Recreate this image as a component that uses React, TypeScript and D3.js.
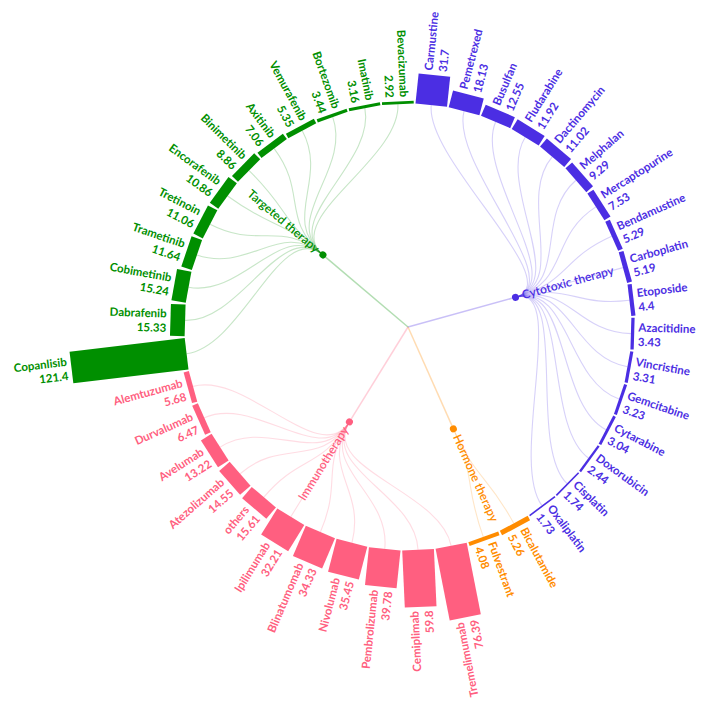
import React, { useEffect, useRef } from "react";
import * as d3 from "d3";

const groupNames = ["Cytotoxic therapy", "Hormone therapy", "Immunotherapy", "Targeted therapy"];
const groupColors = ["#4b2ee3", "#ff8c00", "#ff5f80", "#008f00"];

const cytotoxicDrugs = ["Carmustine", "Pemetrexed", "Busulfan", "Fludarabine", "Dactinomycin", "Melphalan", "Mercaptopurine", "Bendamustine", "Carboplatin", "Etoposide", "Azacitidine", "Vincristine", "Gemcitabine", "Cytarabine", "Doxorubicin", "Cisplatin", "Oxaliplatin"];
const cytotoxicValues = [31.7, 18.13, 12.55, 11.92, 11.02, 9.29, 7.53, 5.29, 5.19, 4.4, 3.43, 3.31, 3.23, 3.04, 2.44, 1.74, 1.73];

const hormoneDrugs = ["Bicalutamide", "Fulvestrant"];
const hormoneValues = [5.26, 4.08];

const immunoDrugs = ["Tremelimumab", "Cemiplimab", "Pembrolizumab", "Nivolumab", "Blinatumomab", "Ipilimumab", "others", "Atezolizumab", "Avelumab", "Durvalumab", "Alemtuzumab"];
const immunoValues = [76.39, 59.8, 39.78, 35.45, 34.33, 32.21, 15.61, 14.55, 13.22, 6.47, 5.68];

const targetedDrugs = ["Copanlisib", "Dabrafenib", "Cobimetinib", "Trametinib", "Tretinoin", "Encorafenib", "Binimetinib", "Axitinib", "Vemurafenib", "Bortezomib", "Imatinib", "Bevacizumab"];
const targetedValues = [121.4, 15.33, 15.24, 11.64, 11.06, 10.86, 8.86, 7.06, 5.35, 3.44, 3.16, 2.92];

const App = () => {
  const ref = useRef(null);

  useEffect(() => {
    const width = 708;
    const height = 711;
    const cx = 408;
    const cy = 327;
    const radius = 223;
    const rotation = 1.7; // degrees, whole chart slightly turned
    const flipFrom = 165; // labels past this angle are turned over

    const svg = d3.select(ref.current);
    svg.selectAll("*").remove();
    svg.attr("width", width).attr("height", height);

    const drugLists = [cytotoxicDrugs, hormoneDrugs, immunoDrugs, targetedDrugs];
    const valueLists = [cytotoxicValues, hormoneValues, immunoValues, targetedValues];
    const treeData = {
      name: "root",
      children: groupNames.map((g, gi) => ({
        name: g,
        group: gi,
        children: drugLists[gi].map((d, i) => ({ name: d, value: valueLists[gi][i], group: gi }))
      }))
    };

    const root = d3.hierarchy(treeData);
    d3.cluster().size([2 * Math.PI, radius]).separation(() => 1)(root);
    root.each(d => { d.x += rotation * Math.PI / 180; });

    const maxVal = d3.max(root.leaves(), d => d.data.value);
    const len = d3.scaleLinear().domain([0, maxVal]).range([0, 116]);
    const step = (2 * Math.PI) / root.leaves().length;
    const barW = 2 * radius * Math.sin(step / 2) - 1.6;

    const deg = x => (x * 180) / Math.PI;
    const flipped = x => deg(x) % 360 > flipFrom;

    const g = svg.append("g")
      .attr("transform", `translate(${cx},${cy})`)
      .style("font-family", "Lato, 'Open Sans', sans-serif");

    // tronc : racine -> groupes
    g.append("g")
      .selectAll("line")
      .data(root.children)
      .join("line")
      .attr("x1", 0)
      .attr("y1", 0)
      .attr("x2", d => d.y * Math.sin(d.x))
      .attr("y2", d => -d.y * Math.cos(d.x))
      .attr("stroke", d => groupColors[d.data.group])
      .attr("stroke-opacity", 0.3)
      .attr("stroke-width", 1.5);

    // branches : groupes -> médicaments
    const link = d3.linkRadial().angle(d => d.x).radius(d => d.y);
    g.append("g")
      .attr("fill", "none")
      .selectAll("path")
      .data(root.links().filter(l => l.source.depth === 1))
      .join("path")
      .attr("d", link)
      .attr("stroke", d => groupColors[d.target.data.group])
      .attr("stroke-opacity", 0.22)
      .attr("stroke-width", 1.1);

    // barres
    g.append("g")
      .selectAll("rect")
      .data(root.leaves())
      .join("rect")
      .attr("transform", d => `rotate(${deg(d.x) - 90}) translate(${radius},0)`)
      .attr("x", 0)
      .attr("y", -barW / 2)
      .attr("width", d => len(d.data.value))
      .attr("height", barW)
      .attr("fill", d => groupColors[d.data.group]);

    // étiquettes des médicaments
    const labels = g.append("g")
      .selectAll("text")
      .data(root.leaves())
      .join("text")
      .attr("transform", d =>
        `rotate(${deg(d.x) - 90}) translate(${radius + len(d.data.value) + 4},0) rotate(${flipped(d.x) ? 180 : 0})`)
      .attr("text-anchor", d => (flipped(d.x) ? "end" : "start"))
      .attr("fill", d => groupColors[d.data.group])
      .style("font-size", "11.5px")
      .style("font-weight", 700);
    labels.append("tspan").attr("x", 0).attr("dy", "-0.2em").text(d => d.data.name);
    labels.append("tspan").attr("x", 0).attr("dy", "1.25em").text(d => d.data.value);

    // noeuds des groupes
    const nodes = g.append("g")
      .selectAll("g")
      .data(root.children)
      .join("g")
      .attr("transform", d => `rotate(${deg(d.x) - 90}) translate(${d.y},0)`);
    nodes.append("circle")
      .attr("r", 3.5)
      .attr("fill", d => groupColors[d.data.group]);
    nodes.append("text")
      .attr("transform", d => `rotate(${flipped(d.x) ? 180 : 0})`)
      .attr("x", d => (flipped(d.x) ? -7 : 7))
      .attr("dy", "0.32em")
      .attr("text-anchor", d => (flipped(d.x) ? "end" : "start"))
      .attr("fill", d => groupColors[d.data.group])
      .style("font-size", "12px")
      .style("font-weight", 600)
      .text(d => d.data.name);
  }, []);

  return (
    <svg ref={ref} style={{ position: "absolute", left: 0, top: 0, background: "white" }}></svg>
  );
};

export default App;
